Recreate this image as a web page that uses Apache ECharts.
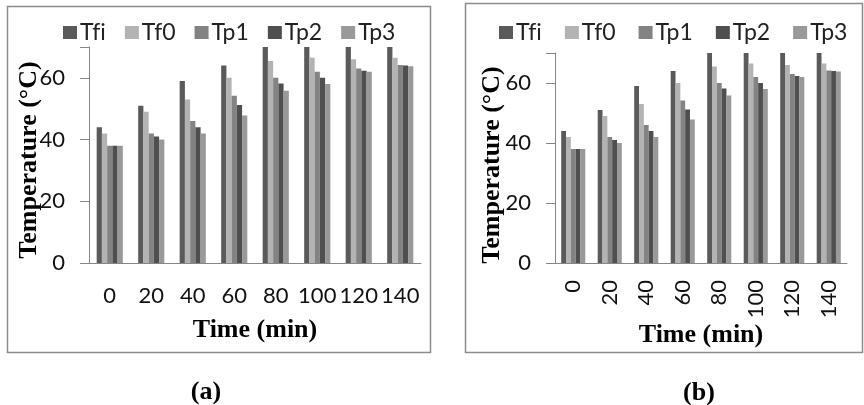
<!DOCTYPE html>
<html>
<head>
<meta charset="utf-8">
<script src="https://cdn.jsdelivr.net/npm/echarts@6/dist/echarts.min.js"></script>
<style>
  html, body { margin: 0; padding: 0; background: #fff; }
  #chart { width: 864px; height: 405px; }
</style>
</head>
<body>
<div id="chart"></div>
<script>
// time (min)
const categories = ["0", "20", "40", "60", "80", "100", "120", "140"];
// temperatures (°C), Tfi clipped at the axis max from 80 min on
const tfi = [44, 51, 59, 64, 70, 70, 70, 70];
const tf0 = [42, 49, 53, 60, 65.5, 66.5, 66, 66.5];
const tp1 = [38, 42, 46, 54.2, 60, 62, 63, 64.2];
const tp2 = [38, 41, 44, 51.2, 58.2, 60, 62.3, 64];
const tp3 = [38, 40, 42, 47.8, 55.8, 58, 62, 63.8];
const yTicks = [0, 20, 40, 60];

const seriesNames = ["Tfi", "Tf0", "Tp1", "Tp2", "Tp3"];
const seriesData = [tfi, tf0, tp1, tp2, tp3];
const colors = ["#5a5a5a", "#b3b3b3", "#838383", "#4f4f4f", "#999999"];

const axisGray = "#868686";
const sansFont = "Lato";
const serifFont = "Liberation Serif";

function makeSeries(gridIdx) {
    return seriesNames.map((name, i) => ({
        name: name,
        type: "bar",
        xAxisIndex: gridIdx,
        yAxisIndex: gridIdx,
        data: seriesData[i],
        barGap: "0%",
        barCategoryGap: gridIdx === 0 ? "37%" : "34%",
        itemStyle: { color: colors[i] },
        animation: false,
    }));
}

function makeLegend(left, gap) {
    return {
        left: left,
        top: 21,
        padding: 0,
        itemWidth: 14,
        itemHeight: 13,
        itemGap: gap,
        icon: "rect",
        data: seriesNames,
        // zero-width non-joiner keeps Lato from drawing the "fi" ligature
        formatter: (name) => name.replace("fi", "f\u200Ci"),
        textStyle: { fontFamily: sansFont, fontSize: 23, color: "#222", padding: [0, 0, 0, -2] },
        selectedMode: false,
    };
}

const yAxisBase = {
    type: "value",
    min: 0,
    max: 70,
    interval: 20,
    name: "Temperature (°C)",
    nameLocation: "middle",
    nameMoveOverlap: false,
    axisLine: { show: true, lineStyle: { color: axisGray, width: 1 } },
    axisTick: { show: true, length: 9, lineStyle: { color: axisGray } },
    axisLabel: {
        fontFamily: sansFont,
        fontSize: 22,
        color: "#111",
        margin: 24,
        formatter: (v) => (yTicks.indexOf(v) >= 0 ? String(v) : ""),
    },
    splitLine: { show: false },
};

const xAxisBase = {
    type: "category",
    data: categories,
    name: "Time (min)",
    nameLocation: "middle",
    nameMoveOverlap: false,
    nameTextStyle: { fontFamily: serifFont, fontWeight: "bold", fontSize: 26, color: "#000" },
    axisLine: { show: true, lineStyle: { color: axisGray, width: 1 } },
    axisTick: { show: false },
    splitLine: { show: false },
};

const captionStyle = { fontFamily: serifFont, fontWeight: "bold", fontSize: 26, color: "#000" };

const option = {
    backgroundColor: "#fff",
    animation: false,
    title: [
        { text: "(a)", left: 201, top: 387, textAlign: "center", textVerticalAlign: "middle", textStyle: captionStyle },
        { text: "(b)", left: 694, top: 388, textAlign: "center", textVerticalAlign: "middle", textStyle: captionStyle },
    ],
    graphic: [
        {
            type: "rect",
            shape: { x: 7.5, y: 6.5, width: 423, height: 346 },
            style: { fill: "none", stroke: "#8c8c8c", lineWidth: 1.5 },
            silent: true,
        },
        {
            type: "rect",
            shape: { x: 465.5, y: 3.5, width: 397, height: 349 },
            style: { fill: "none", stroke: "#8c8c8c", lineWidth: 1.5 },
            silent: true,
        },
    ],
    legend: [makeLegend(63, 19), makeLegend(499, 23)],
    grid: [
        { left: 89, top: 47, width: 332, height: 216, containLabel: false, outerBoundsMode: "none" },
        { left: 555, top: 53, width: 292, height: 210, containLabel: false, outerBoundsMode: "none" },
    ],
    xAxis: [
        Object.assign({}, xAxisBase, {
            gridIndex: 0,
            nameGap: 54,
            axisLabel: { fontFamily: sansFont, fontSize: 22, color: "#111", margin: 22, interval: 0 },
        }),
        Object.assign({}, xAxisBase, {
            gridIndex: 1,
            nameGap: 59,
            axisLabel: { fontFamily: sansFont, fontSize: 22, color: "#111", margin: 17, interval: 0, rotate: 90 },
        }),
    ],
    yAxis: [
        Object.assign({}, yAxisBase, {
            gridIndex: 0,
            nameGap: 47,
            nameTextStyle: { fontFamily: serifFont, fontWeight: "bold", fontSize: 26, color: "#000", padding: [0, 10, 0, 0] },
        }),
        Object.assign({}, yAxisBase, {
            gridIndex: 1,
            nameGap: 50,
            nameTextStyle: { fontFamily: serifFont, fontWeight: "bold", fontSize: 26, color: "#000", padding: [0, 14, 0, 0] },
        }),
    ],
    series: makeSeries(0).concat(makeSeries(1)),
};

const myChart = echarts.init(document.getElementById("chart"), null, { renderer: "canvas" });
myChart.setOption(option);
</script>
</body>
</html>
